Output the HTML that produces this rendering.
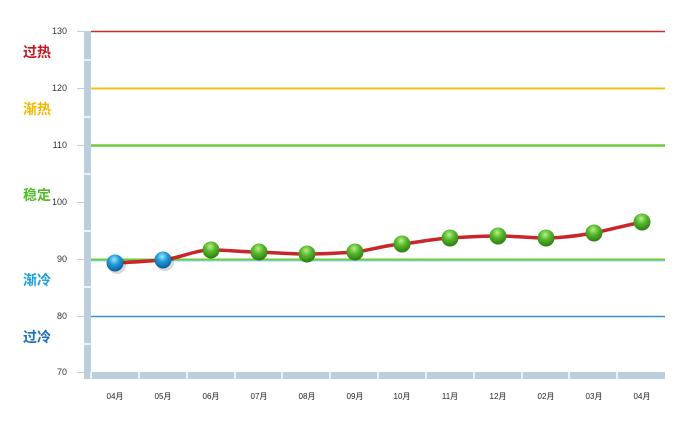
<!DOCTYPE html>
<html><head><meta charset="utf-8"><style>
html,body{margin:0;padding:0;background:#fff;width:687px;height:429px;overflow:hidden}
svg text{font-family:"Liberation Sans","Noto Sans CJK SC",sans-serif}
</style></head><body>
<svg width="687" height="429" viewBox="0 0 687 429" xmlns="http://www.w3.org/2000/svg">
<defs>
<radialGradient id="g" cx="45%" cy="30%" r="70%">
<stop offset="0" stop-color="#b8f08a"/><stop offset="0.45" stop-color="#55b82a"/><stop offset="1" stop-color="#2d7a10"/></radialGradient>
<radialGradient id="b" cx="45%" cy="30%" r="70%">
<stop offset="0" stop-color="#9fe4ff"/><stop offset="0.45" stop-color="#1e9ad8"/><stop offset="1" stop-color="#0b5d95"/></radialGradient>
</defs>
<rect x="84" y="31" width="7" height="348" fill="#bccddd"/>
<g stroke="#fff" stroke-width="1.5">
<line x1="84" y1="60" x2="91" y2="60"/><line x1="84" y1="117" x2="91" y2="117"/><line x1="84" y1="174" x2="91" y2="174"/><line x1="84" y1="231" x2="91" y2="231"/><line x1="84" y1="287" x2="91" y2="287"/><line x1="84" y1="344" x2="91" y2="344"/>
</g>
<rect x="91" y="372" width="574" height="7" fill="#bccddd"/>
<g stroke="#fff" stroke-width="1.5">
<line x1="91" y1="372" x2="91" y2="379"/>
<line x1="139" y1="372" x2="139" y2="379"/><line x1="187" y1="372" x2="187" y2="379"/><line x1="235" y1="372" x2="235" y2="379"/><line x1="282" y1="372" x2="282" y2="379"/><line x1="330" y1="372" x2="330" y2="379"/><line x1="378" y1="372" x2="378" y2="379"/><line x1="426" y1="372" x2="426" y2="379"/><line x1="474" y1="372" x2="474" y2="379"/><line x1="522" y1="372" x2="522" y2="379"/><line x1="569" y1="372" x2="569" y2="379"/><line x1="617" y1="372" x2="617" y2="379"/>
</g>
<g stroke="#bccddd" stroke-width="1">
<line x1="77" y1="31.5" x2="84" y2="31.5"/><line x1="77" y1="88.5" x2="84" y2="88.5"/><line x1="77" y1="145.5" x2="84" y2="145.5"/><line x1="77" y1="202.5" x2="84" y2="202.5"/><line x1="77" y1="259.5" x2="84" y2="259.5"/><line x1="77" y1="316.5" x2="84" y2="316.5"/><line x1="77" y1="372.5" x2="84" y2="372.5"/>
</g>
<g font-size="9" fill="#333" text-anchor="end">
<text x="67" y="34">130</text><text x="67" y="91">120</text><text x="67" y="148">110</text><text x="67" y="205">100</text><text x="67" y="262">90</text><text x="67" y="319">80</text><text x="67" y="375">70</text>
</g>
<line x1="91" y1="31.5" x2="665" y2="31.5" stroke="#cc2a2a" stroke-width="1.5"/>
<line x1="91" y1="88.5" x2="665" y2="88.5" stroke="#f5c21a" stroke-width="2"/>
<line x1="91" y1="145.5" x2="665" y2="145.5" stroke="#6dcc3c" stroke-width="2.5"/>
<line x1="91" y1="259.5" x2="665" y2="259.5" stroke="#6dcc3c" stroke-width="2"/>
<line x1="91" y1="261" x2="665" y2="261" stroke="#8fd8f0" stroke-width="1"/>
<line x1="91" y1="316.5" x2="665" y2="316.5" stroke="#3a8fd8" stroke-width="1.5"/>
<g font-size="14" font-weight="bold">
<text x="23" y="57" fill="#c8141e">过热</text>
<text x="23" y="114" fill="#f5b800">渐热</text>
<text x="23" y="200" fill="#55bb2a">稳定</text>
<text x="23" y="285" fill="#1ea0e0">渐冷</text>
<text x="23" y="342" fill="#1a6fc0">过冷</text>
</g>
<path d="M115,263 C139,262 150,261 163,260 C180,258 195,250 211,250 C230,250 240,252 259,252 C280,253 290,254 307,254 C325,254 340,253 355,252 C372,250 385,245 402,244 C420,242 432,239 450,238 C470,237 480,236 498,236 C515,236 530,238 546,238 C565,238 580,235 594,233 C612,229 628,225 642,222" fill="none" stroke="#c8262a" stroke-width="3.5"/>
<g>
<circle cx="117" cy="265" r="9" fill="#000" opacity="0.15"/>
<circle cx="115" cy="263" r="8.5" fill="url(#b)"/>
<circle cx="165" cy="262" r="9" fill="#000" opacity="0.15"/>
<circle cx="163" cy="260" r="8.5" fill="url(#b)"/>
<circle cx="211" cy="250" r="8.5" fill="url(#g)"/>
<circle cx="259" cy="252" r="8.5" fill="url(#g)"/>
<circle cx="307" cy="254" r="8.5" fill="url(#g)"/>
<circle cx="355" cy="252" r="8.5" fill="url(#g)"/>
<circle cx="402" cy="244" r="8.5" fill="url(#g)"/>
<circle cx="450" cy="238" r="8.5" fill="url(#g)"/>
<circle cx="498" cy="236" r="8.5" fill="url(#g)"/>
<circle cx="546" cy="238" r="8.5" fill="url(#g)"/>
<circle cx="594" cy="233" r="8.5" fill="url(#g)"/>
<circle cx="642" cy="222" r="8.5" fill="url(#g)"/>
</g>
<g font-size="8" fill="#222" text-anchor="middle">
<text x="115" y="399">04月</text><text x="163" y="399">05月</text><text x="211" y="399">06月</text><text x="259" y="399">07月</text><text x="307" y="399">08月</text><text x="355" y="399">09月</text><text x="402" y="399">10月</text><text x="450" y="399">11月</text><text x="498" y="399">12月</text><text x="546" y="399">02月</text><text x="594" y="399">03月</text><text x="642" y="399">04月</text>
</g>
</svg>
</body></html>
